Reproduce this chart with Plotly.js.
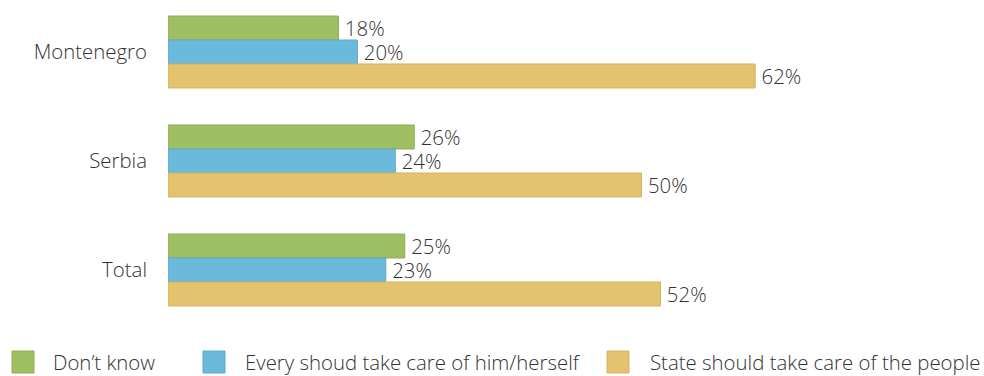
<!DOCTYPE html>
<html>
<head>
<meta charset="utf-8">
<script src="https://cdn.plot.ly/plotly-3.0.1.min.js"></script>
<style>html,body{margin:0;padding:0;background:#fff;}#chart{width:984px;height:376px;}</style>
</head>
<body>
<div id="chart"></div>
<script>
var categories = ["Montenegro", "Serbia", "Total"];
var seriesNames = ["Don\u2019t know", "Every shoud take care of him/herself", "State should take care of the people"];
var dontKnow = [18, 26, 25];
var everyone = [20, 24, 23];
var state = [62, 50, 52];
var colors = ["#a0bf63", "#6cbadb", "#e3c36e"];
var edgeColors = ["#8fae55", "#5eaacb", "#d3b35f"];

var W = 984, H = 376, ML = 168, MR = 11, MT = 0, MB = 56;
var plotW = W - ML - MR, plotH = H - MT - MB;
function px2x(px){ return (px - ML) / plotW; }
function py2y(py){ return 1 - (py - MT) / plotH; }

var values = [dontKnow, everyone, state];
var font = "'Open Sans', 'DejaVu Sans', sans-serif";
var textColor = "#333333";
var FS = 20.4;

var traces = values.map(function(v, i){
  return {
    type: "bar", orientation: "h",
    name: seriesNames[i],
    y: categories, x: v,
    text: v.map(function(d){ return "\u2009" + d + "%"; }),
    textposition: "outside",
    constraintext: "none",
    cliponaxis: false,
    textfont: {family: font, size: FS, color: textColor, weight: 300},
    marker: {color: colors[i], line: {color: edgeColors[i], width: 1}},
    hoverinfo: "skip"
  };
});

// custom legend
var shapes = [], annotations = [];
var legSquareX = [12, 203, 607];
var legTextX = [52, 244, 649];
seriesNames.forEach(function(n, i){
  shapes.push({type: "rect", xref: "paper", yref: "paper",
    x0: px2x(legSquareX[i]), x1: px2x(legSquareX[i] + 22),
    y0: py2y(373), y1: py2y(351),
    fillcolor: colors[i], line: {color: edgeColors[i], width: 1}});
  annotations.push({xref: "paper", yref: "paper", x: px2x(legTextX[i]), y: py2y(361.5),
    xanchor: "left", yanchor: "middle", showarrow: false, text: n, borderpad: 0,
    font: {family: font, size: FS, color: textColor, weight: 300}});
});

var layout = {
  width: W, height: H,
  margin: {l: ML, r: MR, t: MT, b: MB},
  paper_bgcolor: "#fff", plot_bgcolor: "#fff",
  barmode: "group", bargap: 0.34, bargroupgap: 0,
  showlegend: false,
  xaxis: {range: [0, 85], showgrid: false, zeroline: false, showticklabels: false, ticks: "", showline: false, fixedrange: true},
  yaxis: {type: "category", range: [2.459, -0.477], showgrid: false, zeroline: false, ticks: "", showline: false,
    ticklabelstandoff: 20, tickfont: {family: font, size: FS, color: textColor, weight: 300}, fixedrange: true},
  shapes: shapes,
  annotations: annotations,
  font: {family: font}
};

Plotly.newPlot("chart", traces, layout, {displayModeBar: false, staticPlot: true});
</script>
</body>
</html>
